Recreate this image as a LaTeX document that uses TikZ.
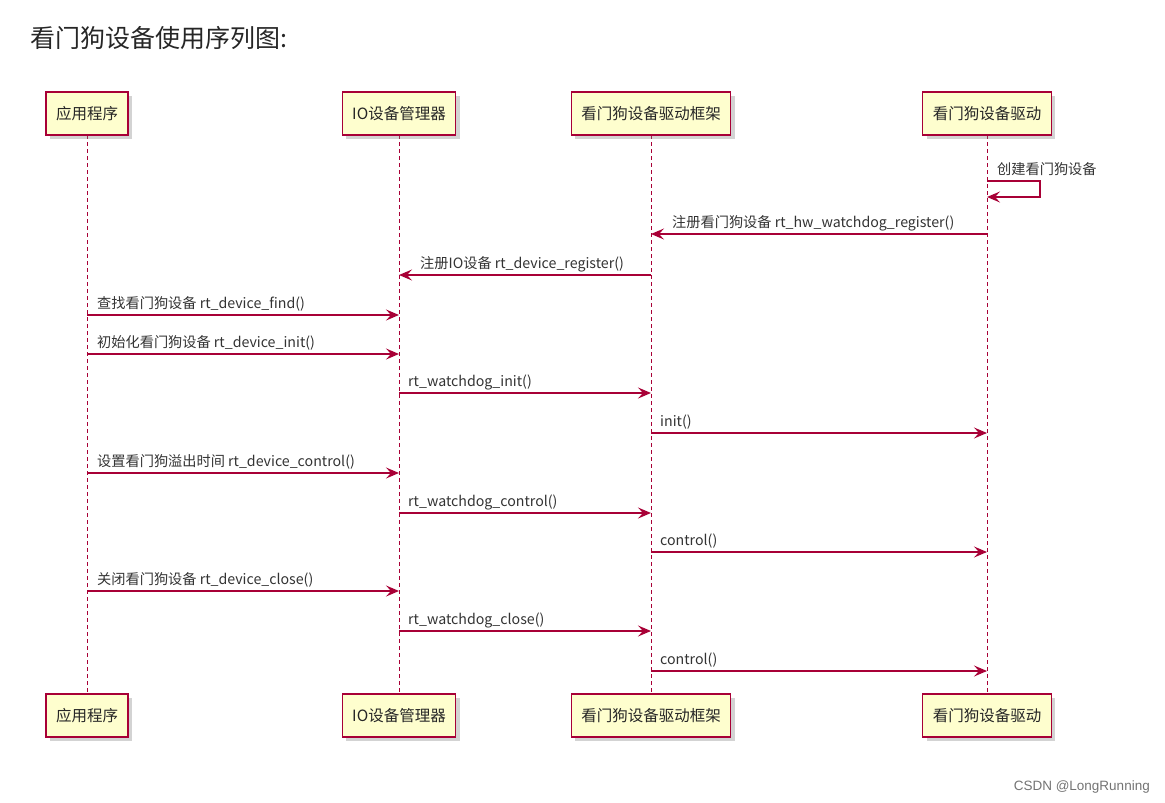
\documentclass[tikz,border=0pt]{standalone}
\usepackage{fontspec}
\setmainfont{Liberation Sans}
\newfontfamily\cjk{Noto Sans CJK SC}
\usetikzlibrary{arrows.meta,shadows}
\definecolor{bd}{HTML}{A80036}
\definecolor{fl}{HTML}{FEFECE}
\tikzset{
 part/.style={draw=bd,line width=1.4pt,fill=fl,minimum height=43pt,inner xsep=10pt,font=\cjk\fontsize{15.5}{17}\selectfont,text=black!85,drop shadow={shadow xshift=4pt,shadow yshift=-4pt,opacity=0.35}},
 life/.style={draw=bd,line width=0.9pt,dash pattern=on 4pt off 3pt},
 msg/.style={draw=bd,line width=1.2pt,-{Stealth[length=13pt,width=11pt,inset=5pt]}},
 lab/.style={font=\cjk\fontsize{14.2}{16}\selectfont,text=black!80,anchor=base west,inner sep=0pt},
}
\begin{document}
\begin{tikzpicture}[x=1pt,y=-1pt]
\useasboundingbox (0,0) rectangle (1165,803);
\node[anchor=base west,inner sep=0pt,font=\cjk\fontsize{25}{28}\selectfont,text=black!85] (title) at (30,47) {看门狗设备使用序列图:};
\node[anchor=base east,inner sep=0pt,font=\fontsize{13.5}{15}\selectfont,text=black!55] (wm) at (1150,790) {CSDN @LongRunning};
\foreach \n/\x/\t in {a/87/应用程序,b/399/IO设备管理器,c/651/看门狗设备驱动框架,d/987/看门狗设备驱动}{
 \draw[life] (\x,135) -- (\x,693);
 \node[part] (\n t) at (\x,113.5) {\t};
 \node[part] (\n b) at (\x,715.5) {\t};
}
\coordinate (s1) at (1040,181); \coordinate (s2) at (1040,197);
\draw[msg] (987,181) -- (s1) -- (s2) -- (987,197);
\node[lab] (l0) at (997,174) {创建看门狗设备};
\foreach \y/\xa/\xb/\lx/\t in {
 234/987/651/672/注册看门狗设备 rt\_hw\_watchdog\_register(),
 275/651/399/420/注册IO设备 rt\_device\_register(),
 315/87/399/97/查找看门狗设备 rt\_device\_find(),
 354/87/399/97/初始化看门狗设备 rt\_device\_init(),
 393/399/651/408/rt\_watchdog\_init(),
 433/651/987/660/init(),
 473/87/399/97/设置看门狗溢出时间 rt\_device\_control(),
 513/399/651/408/rt\_watchdog\_control(),
 552/651/987/660/control(),
 591/87/399/97/关闭看门狗设备 rt\_device\_close(),
 631/399/651/408/rt\_watchdog\_close(),
 671/651/987/660/control()}{
 \draw[msg] (\xa,\y) -- (\xb,\y);
 \node[lab] at (\lx,\y-7) {\t};
}
\end{tikzpicture}
\end{document}
